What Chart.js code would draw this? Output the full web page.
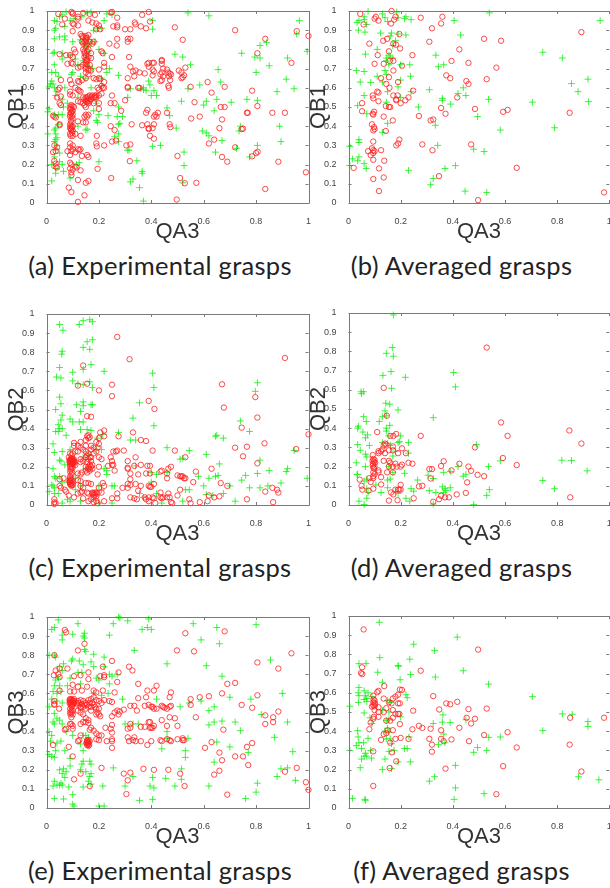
<!DOCTYPE html>
<html><head><meta charset="utf-8">
<script src="https://cdn.jsdelivr.net/npm/chart.js@4"></script>
<style>
html,body{margin:0;padding:0;background:#fff;width:610px;height:888px;overflow:hidden}
canvas{position:absolute;filter:blur(0.45px)}
.cap{position:absolute;font-family:Lato,sans-serif;font-size:25.5px;color:#222;white-space:nowrap;transform:translate(-50%,-50%);letter-spacing:0.3px}
</style></head><body>
<script>
const xTickValues=[0,0.2,0.4,0.6,0.8,1];
const yTickValues=[0,0.1,0.2,0.3,0.4,0.5,0.6,0.7,0.8,0.9,1];
const xLabel='QA3';
const captions=['(a) Experimental grasps','(b) Averaged grasps','(c) Experimental grasps','(d) Averaged grasps','(e) Experimental grasps','(f) Averaged grasps'];
const yLabels=['QB1','QB1','QB2','QB2','QB3','QB3'];

const redA=[[.72,.9],[.835,.855],[.955,.895],[1,.87],[.805,.78],[.935,.73],[.49,.915],[.52,.85],[.785,.585],[.68,.605],[.63,.575],[.615,.63],[.55,.605],[.565,.525],[.665,.5],[.68,.5],[.805,.505],[.765,.47],[.768,.47],[.862,.47],[.91,.47],[.67,.435],[.585,.45],[.552,.44],[.66,.39],[.745,.385],[.75,.387],[.64,.33],[.62,.31],[.72,.29],[.67,.24],[.69,.215],[.785,.243],[.8,.26],[.806,.267],[.885,.215],[.99,.16],[.835,.073],[.572,.105],[.528,.103],[.51,.13],[.497,.018],[.5,.245],
[.39,.995],[.365,.98],[.395,.945],[.337,.94],[.34,.93],[.36,.92],[.38,.91],[.3,.905],[.32,.905],[.27,.965],[.25,.995],[.245,.992],[.255,.92],[.27,.925],[.27,.915],[.27,.855],[.31,.855],[.32,.855],[.31,.84],[.24,.83],[.268,.82],[.25,.76],[.315,.76],[.32,.71],[.33,.685],[.34,.69],[.355,.68],[.335,.66],[.31,.65],[.375,.675],[.385,.725],[.39,.73],[.39,.71],[.405,.73],[.41,.73],[.405,.695],[.41,.685],[.405,.665],[.435,.67],[.44,.745],[.44,.74],[.44,.725],[.445,.7],[.44,.68],[.445,.66],[.44,.64],[.435,.635],[.46,.695],[.465,.68],[.47,.675],[.468,.66],[.475,.67],[.472,.64],[.465,.61],[.467,.6],[.505,.69],[.515,.68],[.53,.705],[.515,.65],[.52,.655],[.525,.665],[.31,.605],[.31,.6],[.35,.6],[.355,.6],[.3,.535],[.25,.56],[.245,.52],[.26,.52],[.285,.48],[.245,.4],[.26,.38],[.325,.41],[.365,.405],[.38,.47],[.385,.485],[.385,.41],[.39,.39],[.395,.35],[.39,.385],[.405,.39],[.41,.335],[.41,.41],[.415,.46],[.41,.45],[.425,.47],[.42,.45],[.46,.47],[.47,.41],[.473,.395],[.25,.32],[.265,.325],[.305,.3],[.32,.305],[.22,.3],[.19,.31],[.192,.295],[.192,.35],[.247,.13],[.318,.218],[.195,.178],[.16,.24],[.155,.25],[.135,.245],
[.045,.985],[.095,.995],[.1,.99],[.1,.985],[.14,.99],[.165,.985],[.185,.98],[.12,.97],[.12,.96],[.07,.96],[.06,.93],[.1,.935],[.105,.93],[.12,.925],[.16,.95],[.175,.94],[.19,.935],[.2,.925],[.19,.905],[.205,.905],[.1,.895],[.13,.88],[.135,.87],[.14,.865],[.15,.87],[.155,.86],[.16,.875],[.135,.84],[.14,.83],[.15,.84],[.165,.84],[.175,.83],[.18,.84],[.105,.8],[.11,.785],[.14,.8],[.145,.79],[.155,.79],[.16,.8],[.17,.78],[.21,.79],[.215,.78],[.05,.775],[.075,.77],[.09,.77],[.1,.76],[.145,.76],[.16,.76],[.17,.755],[.15,.73],[.155,.74],[.165,.72],[.08,.725],[.095,.73],[.1,.725],[.12,.705],[.13,.71],[.14,.72],[.15,.7],[.16,.7],[.17,.69],[.2,.695],[.22,.73],[.22,.71],[.15,.68],[.16,.67],[.18,.65],[.19,.645],[.2,.65],[.205,.645],[.09,.64],[.12,.635],[.125,.63],[.135,.64],[.15,.65],[.055,.64],[.05,.6],[.045,.59],[.095,.62],[.11,.6],[.12,.59],[.125,.585],[.13,.58],[.09,.58],[.09,.565],[.1,.56],[.21,.61],[.22,.63],[.215,.6],[.22,.6],[.195,.6],[.2,.59],[.055,.555],[.04,.55],[.05,.52],[.055,.51],[.12,.53],[.13,.525],[.14,.52],[.15,.55],[.155,.54],[.16,.555],[.165,.53],[.17,.54],[.175,.56],[.185,.56],[.19,.55],[.2,.56],[.21,.57],[.145,.51],[.15,.5],[.16,.52],[.18,.52],[.2,.52],[.2,.49],[.095,.51],[.1,.505],[.105,.5],[.09,.49],[.1,.48],[.095,.47],[.09,.46],[.1,.46],[.09,.45],[.1,.44],[.025,.455],[.03,.45],[.035,.445],[.15,.46],[.155,.45],[.145,.45],[.16,.46],[.14,.42],[.15,.42],[.12,.425],[.05,.41],[.05,.405],[.09,.41],[.1,.4],[.09,.39],[.095,.385],[.1,.375],[.09,.36],[.1,.35],[.11,.36],[.13,.35],[.09,.31],[.1,.3],[.09,.29],[.095,.27],[.1,.28],[.08,.27],[.09,.25],[.11,.265],[.12,.28],[.125,.275],[.13,.28],[.04,.29],[.03,.3],[.035,.27],[.025,.265],[.03,.22],[.035,.205],[.035,.19],[.04,.185],[.09,.21],[.095,.2],[.09,.18],[.1,.175],[.11,.19],[.115,.185],[.13,.17],[.095,.16],[.095,.145],[.12,.12],[.16,.115],[.15,.105],[.085,.08],[.095,.057],[.145,.04],[.12,.006],
[.092,.5],[.095,.49],[.098,.48],[.092,.47],[.097,.45],[.093,.43],[.095,.42],[.092,.4],[.097,.395],[.094,.38],[.098,.365],[.092,.35],[.14,.55],[.145,.54],[.15,.53],[.155,.525],[.16,.535],[.155,.55],[.17,.55],[.165,.56],[.18,.55],[.185,.55],[.19,.56],[.15,.86],[.15,.85],[.145,.84],[.155,.83],[.15,.82],[.15,.81],[.145,.78],[.15,.77],[.155,.75],[.15,.745],[.155,.72],[.15,.71],[.16,.69]];
const greenA=[[.54,.99],[.62,.975],[.965,.95],[.955,.88],[.995,.79],[.84,.835],[.815,.82],[.745,.78],[.795,.76],[.815,.755],[.85,.715],[.92,.755],[.8,.68],[.655,.695],[.55,.72],[.52,.76],[.49,.775],[.915,.645],[.945,.595],[.88,.58],[.665,.63],[.585,.615],[.54,.595],[.515,.53],[.61,.53],[.6,.51],[.65,.54],[.705,.525],[.765,.54],[.805,.535],[.64,.48],[.74,.4],[.735,.375],[.89,.4],[.595,.375],[.61,.365],[.62,.35],[.67,.325],[.895,.32],[.805,.3],[.725,.285],[.645,.265],[.775,.24],[.525,.265],[.525,.195],[.52,.105],[.495,.39],[.47,.455],[.46,.495],[.435,.3],[.405,.295],[.345,.22],[.365,.165],[.365,.155],[.33,.125],[.32,.11],[.355,.08],[.37,.01],[.31,.275],[.315,.275],[.2,.215],
[.405,.95],[.405,.905],[.39,.635],[.395,.615],[.37,.6],[.36,.595],[.38,.585],[.41,.585],[.42,.56],[.4,.56],[.37,.59],[.32,.595],[.31,.55],[.29,.45],[.275,.5],[.27,.45],[.28,.415],[.275,.41],[.275,.36],[.26,.345],[.275,.32],[.235,.455],[.2,.46],[.195,.42],[.19,.43],[.155,.385],[.15,.38],[.12,.4],[.125,.21],[.115,.2],[.25,.98],[.23,.985],[.17,.995],[.155,.99],[.075,.995],[.06,.98],[.05,.97],[.03,.95],[.04,.945],[.035,.91],[.03,.9],[.07,.92],[.09,.95],[.105,.96],[.135,.97],[.22,.95],[.21,.91],[.195,.91],[.18,.9],[.07,.87],[.05,.865],[.03,.855],[.07,.85],[.1,.84],[.13,.85],[.16,.85],[.145,.83],[.155,.815],[.17,.83],[.185,.84],[.2,.8],[.22,.78],[.03,.785],[.025,.78],[.06,.78],[.09,.77],[.06,.75],[.11,.75],[.15,.77],[.16,.78],[.14,.74],[.03,.72],[.02,.68],[.035,.68],[.045,.66],[.1,.68],[.095,.67],[.12,.72],[.16,.71],[.175,.7],[.23,.68],[.24,.7],[.275,.665],[.13,.66],[.15,.65],[.02,.635],[.015,.62],[.025,.62],[.01,.605],[.03,.6],[.04,.58],[.07,.6],[.035,.56],[.06,.54],[.08,.52],[.065,.5],[.01,.49],[.005,.475],[.03,.46],[.045,.46],[.06,.46],[.045,.41],[.035,.39],[.03,.38],[.005,.36],[.035,.36],[.04,.34],[.035,.33],[.03,.32],[.04,.3],[.035,.28],[.05,.26],[.03,.24],[.05,.215],[.06,.2],[.02,.2],[.035,.18],[.065,.165],[.035,.155],[.02,.115],[.09,.13],[.21,.65],[.21,.61],[.17,.6],[.19,.52],[.18,.48],[.12,.55]];
const redB=[[.045,.985],[.1,.96],[.105,.97],[.115,.95],[.165,1],[.18,.97],[.175,.955],[.163,.935],[.058,.93],[.277,.965],[.36,.97],[.355,.935],[.32,.91],[.893,.89],[.52,.855],[.585,.845],[.195,.88],[.148,.855],[.133,.845],[.08,.83],[.31,.84],[.172,.83],[.182,.825],[.198,.805],[.425,.8],[.155,.79],[.112,.77],[.245,.77],[.158,.74],[.172,.74],[.1,.725],[.135,.725],[.205,.715],[.395,.74],[.46,.73],[.567,.705],[.172,.69],[.155,.655],[.125,.65],[.375,.665],[.39,.65],[.53,.645],[.452,.635],[.46,.62],[.19,.63],[.145,.62],[.157,.6],[.248,.585],[.11,.58],[.115,.575],[.093,.56],[.095,.545],[.115,.53],[.172,.56],[.188,.56],[.23,.55],[.183,.54],[.183,.535],[.218,.535],[.2,.52],[.417,.55],[.052,.52],[.143,.505],[.155,.5],[.16,.5],[.355,.495],[.485,.49],[.61,.485],[.593,.475],[.848,.47],[.052,.478],[.098,.475],[.093,.465],[.095,.46],[.135,.45],[.27,.453],[.372,.465],[.325,.435],[.315,.43],[.17,.43],[.09,.41],[.098,.395],[.1,.385],[.095,.378],[.143,.375],[.195,.33],[.19,.31],[.183,.3],[.095,.32],[.283,.305],[.47,.305],[.322,.275],[.09,.285],[.095,.275],[.1,.27],[.075,.27],[.125,.275],[.085,.25],[.095,.26],[.095,.225],[.137,.22],[.117,.18],[.02,.183],[.645,.183],[.135,.133],[.095,.125],[.347,.14],[.117,.062],[.497,.015],[.98,.055]];
const greenB=[[.075,.998],[.13,.985],[.185,.995],[.54,.99],[.965,.95],[.14,.965],[.06,.97],[.06,.955],[.033,.94],[.04,.95],[.15,.945],[.19,.965],[.22,.97],[.24,.955],[.215,.96],[.405,.95],[.07,.93],[.038,.9],[.063,.89],[.123,.885],[.165,.885],[.19,.88],[.22,.875],[.43,.875],[.16,.87],[.18,.845],[.17,.82],[.11,.8],[.065,.775],[.335,.77],[.745,.785],[.82,.755],[.145,.755],[.16,.76],[.155,.77],[.17,.755],[.145,.74],[.2,.72],[.235,.72],[.365,.72],[.345,.71],[.155,.72],[.14,.69],[.03,.69],[.06,.685],[.11,.66],[.145,.67],[.238,.66],[.918,.645],[.045,.63],[.085,.628],[.13,.63],[.2,.64],[.855,.622],[.19,.605],[.44,.6],[.31,.59],[.24,.58],[.15,.58],[.88,.58],[.42,.57],[.06,.56],[.45,.56],[.36,.545],[.36,.535],[.2,.55],[.537,.54],[.145,.525],[.92,.528],[.705,.525],[.392,.515],[.035,.507],[.268,.5],[.07,.465],[.495,.45],[.15,.415],[.333,.405],[.79,.392],[.582,.38],[.13,.368],[.04,.33],[.04,.315],[.005,.295],[.342,.3],[.48,.28],[.52,.268],[.04,.24],[.015,.23],[.035,.22],[.005,.195],[.06,.205],[.068,.18],[.23,.17],[.37,.18],[.41,.195],[.325,.128],[.315,.095],[.447,.062],[.53,.055]];
const redC=[[.27,.88],[.317,.763],[.91,.77],[.14,.73],[.67,.632],[.25,.63],[.12,.625],[.155,.635],[.2,.6],[.25,.57],[.797,.565],[.39,.545],[.412,.503],[.677,.51],[.155,.465],[.17,.462],[.805,.458],[.745,.405],[1,.37],[.832,.323],[.765,.305],[.72,.3],[.953,.293],[.75,.255],[.805,.218],
[.33,.38],[.275,.36],[.22,.39],[.205,.38],[.22,.36],[.36,.34],[.38,.335],[.405,.285],[.49,.285],[.295,.285],[.255,.28],[.265,.28],[.27,.285],[.34,.25],[.245,.25],[.25,.23],[.31,.23],[.25,.21],[.255,.21],[.31,.195],[.31,.19],[.335,.205],[.36,.21],[.385,.205],[.395,.205],[.235,.205],[.26,.18],[.475,.2],[.465,.19],[.44,.18],[.435,.175],[.46,.165],[.46,.14],[.53,.25],[.57,.175],[.5,.155],[.51,.15],[.515,.15],[.52,.15],[.53,.14],[.525,.14],[.56,.12],[.63,.19],[.665,.115],[.69,.1],[.51,.08],[.5,.05],[.545,.03],[.55,.01],[.585,.015],[.615,.02],[.62,.05],[.64,.04],[.66,.045],[.765,.03],[.835,.07],[.865,.015],[.862,.09],[.88,.08],[.885,.065],[.41,.11],[.39,.1],[.395,.095],[.4,.095],[.395,.165],[.38,.165],[.35,.16],[.32,.165],[.32,.135],[.31,.11],[.34,.11],[.32,.105],[.36,.1],[.35,.075],[.29,.09],[.31,.09],[.27,.06],[.27,.035],[.25,.035],[.32,.04],[.335,.035],[.345,.03],[.375,.04],[.38,.03],[.39,.02],[.39,.04],[.405,.04],[.41,.035],[.415,.01],[.435,.065],[.435,.04],[.44,.035],[.445,.04],[.46,.04],[.465,.06],[.47,.04],[.475,.015],[.48,.01],
[.16,.365],[.155,.36],[.165,.355],[.16,.35],[.15,.34],[.13,.33],[.105,.325],[.105,.31],[.12,.31],[.13,.3],[.15,.31],[.17,.31],[.19,.33],[.2,.35],[.2,.32],[.18,.3],[.17,.29],[.15,.28],[.14,.29],[.12,.28],[.11,.28],[.09,.27],[.095,.26],[.1,.27],[.085,.25],[.1,.24],[.095,.235],[.1,.23],[.095,.225],[.09,.23],[.105,.23],[.1,.22],[.09,.215],[.11,.21],[.13,.24],[.13,.225],[.14,.23],[.15,.25],[.155,.26],[.16,.24],[.17,.23],[.18,.27],[.19,.28],[.2,.25],[.21,.24],[.195,.3],[.16,.2],[.165,.21],[.17,.2],[.15,.2],[.15,.18],[.155,.17],[.165,.18],[.175,.19],[.2,.2],[.195,.16],[.135,.17],[.13,.16],[.12,.165],[.095,.19],[.09,.175],[.095,.16],[.09,.15],[.095,.13],[.09,.125],[.1,.12],[.095,.115],[.09,.11],[.1,.105],[.095,.1],[.05,.135],[.05,.1],[.055,.09],[.065,.14],[.07,.08],[.075,.07],[.085,.05],[.03,.03],[.03,.015],[.03,.005],[.035,.01],[.12,.13],[.13,.125],[.13,.1],[.14,.09],[.15,.115],[.16,.115],[.17,.11],[.215,.115],[.22,.1],[.2,.09],[.13,.065],[.12,.06],[.135,.07],[.155,.065],[.16,.06],[.175,.065],[.18,.06],[.185,.055],[.195,.06],[.21,.065],[.19,.045],[.18,.04],[.17,.03],[.16,.02],[.14,.035],[.105,.04],[.19,.02],[.195,.01],[.22,.02],[.18,.015],
[.092,.24],[.098,.24],[.104,.24],[.088,.235],[.094,.23],[.102,.225],[.108,.225],[.092,.22],[.098,.215],[.104,.215],[.088,.225],[.096,.245],[.09,.2],[.095,.2],[.1,.195],[.092,.185],[.098,.17],[.09,.14],[.096,.135],[.088,.12],[.094,.105],[.1,.11],[.088,.13],[.155,.225],[.165,.25],[.17,.25],[.16,.27],[.175,.21],[.16,.19],[.165,.19],[.175,.06],[.185,.065],[.19,.065],[.18,.05]];
const greenC=[[.05,.945],[.063,.915],[.125,.945],[.14,.965],[.165,.97],[.175,.96],[.155,.855],[.175,.865],[.14,.825],[.165,.815],[.06,.805],[.058,.79],[.05,.72],[.17,.735],[.1,.695],[.22,.7],[.14,.71],[.038,.67],[.055,.665],[.1,.65],[.405,.69],[.41,.615],[.12,.635],[.14,.63],[.165,.645],[.175,.615],[.805,.64],[.797,.595],[.05,.565],[.055,.53],[.035,.5],[.115,.525],[.14,.54],[.17,.525],[.175,.525],[.14,.52],[.13,.49],[.355,.535],[.06,.47],[.055,.445],[.09,.45],[.1,.435],[.125,.435],[.14,.435],[.045,.42],[.33,.455],[.41,.415],[.05,.4],[.06,.4],[.035,.385],[.045,.385],[.13,.395],[.155,.395],[.17,.39],[.075,.365],[.275,.38],[.215,.37],[.195,.35],[.34,.34],[.32,.34],[.025,.32],[.74,.44],[.775,.385],[.645,.36],[.65,.365],[.675,.35],[.945,.285],[.545,.285],[.46,.3],[.61,.265],[.66,.215],[.52,.245],[.34,.205],[.03,.275],[.06,.28],[.09,.29],[.19,.29],[.21,.29],[.05,.235],[.055,.23],[.025,.19],[.07,.21],[.03,.15],[.035,.14],[.05,.15],[.06,.12],[.02,.105],[.025,.1],[.03,.09],[.01,.07],[.03,.06],[.045,.06],[.08,.12],[.11,.14],[.15,.19],[.16,.26],[.14,.25],[.22,.19],[.23,.18],[.23,.16],[.25,.1],[.26,.1],[.21,.08],[.2,.1],[.13,.1],[.11,.08],[.09,.02],[.06,.01],[.08,.03],[.13,.02],[.2,.01],[.25,.01],[.355,.06],[.37,.04],[.4,.17],[.42,.16],[.4,.12],[.42,.06],[.44,.01],[.46,.17],[.51,.24],[.53,.08],[.545,.08],[.52,.02],[.58,.15],[.6,.1],[.62,.14],[.645,.15],[.655,.155],[.61,.055],[.635,.05],[.675,.06],[.7,.1],[.72,.02],[.745,.13],[.76,.155],[.775,.09],[.805,.165],[.815,.235],[.815,.09],[.845,.1],[.85,.18],[.895,.115],[.915,.175],[.92,.19],[.995,.14]];
const redD=[[.53,.82],[.135,.61],[.147,.465],[.585,.43],[.847,.388],[.893,.32],[.11,.38],[.183,.37],[.277,.36],[.16,.36],[.172,.36],[.61,.36],[.14,.32],[.135,.31],[.145,.315],[.485,.3],[.17,.305],[.205,.295],[.13,.29],[.115,.28],[.125,.28],[.14,.27],[.115,.27],[.155,.285],[.22,.27],[.19,.27],[.17,.285],[.093,.26],[.592,.245],[.095,.24],[.1,.235],[.092,.23],[.098,.225],[.102,.22],[.094,.215],[.135,.23],[.155,.23],[.365,.228],[.23,.22],[.245,.215],[.205,.21],[.16,.22],[.18,.215],[.645,.208],[.425,.215],[.46,.2],[.093,.205],[.1,.2],[.095,.195],[.098,.19],[.185,.2],[.2,.2],[.155,.2],[.17,.2],[.17,.17],[.148,.17],[.355,.203],[.31,.187],[.32,.187],[.395,.18],[.47,.178],[.095,.17],[.1,.16],[.115,.18],[.115,.17],[.495,.157],[.52,.15],[.095,.15],[.125,.145],[.095,.14],[.08,.14],[.315,.138],[.043,.132],[.085,.12],[.125,.107],[.455,.118],[.2,.105],[.05,.1],[.27,.097],[.283,.1],[.095,.085],[.053,.08],[.077,.075],[.163,.065],[.172,.055],[.19,.08],[.18,.08],[.195,.08],[.2,.08],[.415,.055],[.45,.063],[.85,.04],[.25,.035],[.355,.048],[.37,.04],[.385,.04],[.347,.03],[.155,.023],[.188,.025],[.325,.017]];
const greenD=[[.172,.99],[.168,.82],[.145,.79],[.172,.775],[.163,.695],[.132,.675],[.218,.665],[.403,.69],[.41,.615],[.165,.608],[.048,.59],[.058,.59],[.05,.58],[.143,.53],[.158,.525],[.19,.495],[.14,.49],[.13,.46],[.058,.46],[.068,.435],[.118,.435],[.145,.465],[.325,.455],[.158,.415],[.038,.41],[.145,.4],[.035,.4],[.055,.38],[.145,.385],[.073,.365],[.155,.36],[.065,.35],[.2,.36],[.19,.325],[.195,.33],[.23,.325],[.035,.315],[.08,.31],[.13,.325],[.15,.32],[.16,.31],[.49,.315],[.045,.285],[.18,.28],[.23,.27],[.065,.265],[.07,.25],[.17,.255],[.582,.23],[.818,.233],[.855,.232],[.03,.22],[.065,.2],[.155,.2],[.537,.2],[.42,.2],[.915,.178],[.035,.16],[.033,.158],[.17,.17],[.215,.165],[.305,.155],[.365,.17],[.39,.175],[.44,.15],[.45,.16],[.15,.13],[.16,.135],[.325,.138],[.265,.13],[.745,.128],[.06,.125],[.07,.135],[.105,.105],[.15,.09],[.36,.095],[.37,.085],[.39,.09],[.54,.08],[.79,.085],[.24,.085],[.25,.072],[.31,.075],[.335,.065],[.365,.065],[.373,.075],[.07,.085],[.075,.065],[.125,.065],[.19,.06],[.18,.07],[.53,.05],[.07,.035],[.22,.035],[.04,.02],[.235,.02],[.06,.003],[.325,.005],[.48,.002]];
const redE=[[.07,.932],[.075,.92],[.145,.86],[.12,.825],[.53,.915],[.68,.925],[.498,.825],[.563,.82],[.935,.81],[.03,.8],[.805,.762],[.885,.73],[.25,.77],[.215,.74],[.315,.74],[.328,.72],[.275,.71],[.08,.73],[.05,.73],[.035,.72],[.045,.7],[.028,.695],[.05,.685],[.105,.69],[.13,.695],[.16,.71],[.16,.675],[.205,.69],[.22,.695],[.22,.685],[.27,.66],[.35,.65],[.42,.64],[.475,.605],[.385,.615],[.41,.615],[.69,.65],[.72,.655],[.67,.6],[.05,.615],[.1,.645],[.12,.635],[.135,.615],[.155,.635],[.18,.615],[.19,.605],[.215,.615],[.26,.605],[.09,.61],[.105,.61],[.805,.59],[.62,.585],[.585,.58],[.55,.57],[.47,.58],[.38,.58],[.35,.575],[.09,.57],[.095,.565],[.1,.56],[.09,.555],[.1,.55],[.095,.545],[.105,.57],[.12,.56],[.13,.565],[.14,.56],[.15,.55],[.16,.565],[.17,.57],[.18,.58],[.19,.565],[.2,.56],[.21,.55],[.22,.565],[.24,.56],[.25,.555],[.03,.56],[.03,.545],[.03,.54],[.048,.52],[.095,.53],[.09,.52],[.1,.51],[.09,.5],[.1,.49],[.095,.475],[.12,.54],[.13,.525],[.12,.51],[.13,.5],[.14,.53],[.16,.53],[.17,.53],[.18,.54],[.19,.52],[.2,.52],[.195,.5],[.2,.49],[.19,.49],[.205,.48],[.14,.49],[.15,.47],[.16,.46],[.15,.45],[.16,.445],[.14,.45],[.13,.44],[.17,.42],[.55,.54],[.745,.54],[.785,.525],[.885,.505],[.835,.485],[.865,.475],[.865,.45],[.835,.44],[.57,.475],[.47,.475],[.49,.47],[.5,.43],[.26,.5],[.27,.51],[.28,.505],[.295,.515],[.275,.49],[.25,.48],[.32,.535],[.335,.535],[.345,.51],[.375,.535],[.39,.54],[.4,.53],[.405,.53],[.41,.52],[.42,.52],[.44,.535],[.445,.53],[.45,.525],[.46,.52],[.47,.53],[.475,.535],[.375,.425],[.39,.45],[.395,.45],[.4,.42],[.395,.42],[.405,.42],[.41,.43],[.36,.425],[.44,.46],[.46,.43],[.32,.42],[.32,.44],[.31,.415],[.25,.435],[.245,.415],[.225,.42],[.675,.41],[.07,.41],[.075,.415],[.09,.44],[.095,.44],[.1,.43],[.1,.415],[.13,.38],[.165,.41],[.18,.405],[.19,.39],[.2,.38],[.21,.38],[.25,.395],[.25,.36],[.23,.35],[.25,.35],[.2,.355],[.19,.36],[.12,.35],[.125,.355],[.155,.355],[.155,.345],[.16,.34],[.155,.33],[.16,.325],[.165,.35],[.025,.33],[.085,.32],[.25,.315],[.31,.37],[.315,.35],[.33,.355],[.34,.35],[.335,.37],[.36,.35],[.385,.33],[.4,.35],[.435,.355],[.44,.35],[.46,.36],[.47,.355],[.475,.35],[.5,.36],[.52,.355],[.52,.365],[.525,.355],[.605,.315],[.63,.345],[.66,.29],[.67,.25],[.72,.27],[.75,.27],[.765,.32],[.785,.34],[.77,.225],[.955,.21],[.91,.19],[.99,.135],[1,.095],[.66,.195],[.64,.175],[.69,.07],[.1,.27],[.37,.205],[.41,.2],[.465,.2],[.51,.18],[.527,.115],[.295,.18],[.32,.185],[.31,.145],[.305,.073],[.13,.18],[.105,.15],[.165,.115],[.21,.21],
[.088,.565],[.094,.57],[.1,.565],[.105,.56],[.088,.55],[.094,.555],[.1,.545],[.105,.55],[.092,.54],[.098,.535],[.115,.55],[.125,.55],[.135,.545],[.145,.54],[.155,.54],[.165,.55],[.175,.55],[.185,.53],[.13,.53],[.15,.52],[.17,.51],[.155,.35],[.16,.345],[.152,.34],[.158,.335],[.163,.33],[.16,.355],[.095,.51],[.092,.49],[.096,.5]];
const greenE=[[.275,1],[.28,.995],[.39,.99],[.31,.98],[.255,.965],[.56,.965],[.65,.945],[.8,.96],[.12,.965],[.045,.985],[.02,.935],[.03,.945],[.365,.935],[.385,.945],[.4,.935],[.06,.905],[.1,.91],[.14,.9],[.145,.915],[.145,.89],[.24,.905],[.06,.88],[.59,.88],[.66,.86],[.145,.83],[.15,.82],[.335,.825],[.01,.8],[.03,.8],[.035,.79],[.18,.805],[.22,.79],[.1,.78],[.095,.77],[.125,.77],[.17,.765],[.46,.755],[.855,.775],[.61,.745],[.05,.74],[.065,.755],[.14,.75],[.18,.74],[.22,.74],[.06,.72],[.12,.71],[.135,.71],[.24,.7],[.67,.69],[.035,.67],[.045,.68],[.09,.68],[.19,.68],[.27,.7],[.25,.69],[.03,.64],[.05,.64],[.13,.65],[.2,.67],[.24,.65],[.08,.64],[.025,.61],[.04,.6],[.055,.61],[.18,.6],[.21,.59],[.235,.6],[.9,.6],[.7,.58],[.78,.57],[.42,.57],[.29,.57],[.02,.57],[.04,.56],[.06,.55],[.59,.56],[.545,.55],[.01,.53],[.03,.495],[.51,.53],[.62,.51],[.64,.53],[.82,.49],[.04,.47],[.05,.46],[.025,.45],[.03,.44],[.06,.44],[.3,.44],[.33,.44],[.35,.44],[.62,.435],[.64,.45],[.67,.455],[.72,.45],[.92,.45],[.74,.405],[.46,.4],[.87,.37],[.01,.4],[.02,.38],[.015,.35],[.04,.34],[.055,.35],[.075,.4],[.1,.38],[.14,.38],[.15,.38],[.16,.37],[.14,.3],[.13,.335],[.54,.365],[.46,.365],[.65,.345],[.44,.31],[.53,.3],[.53,.265],[.94,.295],[.7,.32],[.77,.29],[.03,.265],[.02,.27],[.01,.28],[.035,.3],[.07,.3],[.09,.26],[.64,.24],[.14,.245],[.135,.23],[.165,.245],[.17,.23],[.09,.22],[.13,.2],[.15,.19],[.065,.205],[.05,.2],[.06,.18],[.075,.19],[.07,.16],[.17,.18],[.165,.165],[.16,.14],[.255,.21],[.515,.205],[.895,.205],[.92,.21],[.95,.145],[.88,.165],[.805,.13],[.03,.14],[.025,.115],[.05,.12],[.06,.12],[.055,.13],[.04,.12],[.085,.11],[.14,.11],[.17,.125],[.215,.115],[.33,.165],[.3,.115],[.405,.16],[.395,.115],[.41,.105],[.455,.155],[.49,.115],[.515,.15],[.62,.115],[.03,.05],[.065,.047],[.1,.07],[.1,.02],[.105,.01],[.2,.01],[.22,.01],[.355,.04],[.405,.045],[.76,.05],[.8,.083]];
const redF=[[.058,.93],[.497,.825],[.277,.715],[.048,.703],[.052,.733],[.053,.697],[.137,.635],[.115,.61],[.11,.603],[.197,.617],[.205,.615],[.325,.583],[.19,.59],[.18,.58],[.17,.57],[.135,.57],[.095,.585],[.096,.565],[.1,.56],[.095,.55],[.1,.548],[.102,.54],[.095,.535],[.1,.53],[.09,.528],[.115,.525],[.155,.55],[.19,.545],[.197,.545],[.165,.545],[.417,.553],[.375,.545],[.39,.54],[.145,.52],[.135,.5],[.115,.5],[.1,.51],[.348,.513],[.46,.515],[.53,.518],[.248,.507],[.17,.51],[.18,.49],[.19,.49],[.195,.49],[.17,.47],[.115,.475],[.097,.475],[.095,.465],[.453,.47],[.485,.465],[.85,.47],[.98,.47],[.145,.455],[.16,.455],[.47,.44],[.085,.445],[.197,.437],[.27,.428],[.283,.417],[.245,.41],[.315,.413],[.355,.405],[.425,.418],[.08,.41],[.17,.405],[.15,.405],[.135,.385],[.145,.39],[.61,.395],[.52,.38],[.125,.355],[.18,.36],[.2,.365],[.23,.36],[.31,.36],[.355,.36],[.365,.348],[.395,.357],[.462,.348],[.16,.34],[.32,.33],[.645,.315],[.848,.33],[.095,.295],[.167,.29],[.32,.293],[.183,.243],[.593,.218],[.158,.208],[.372,.205],[.893,.19],[.095,.115],[.567,.072]];
const greenF=[[.118,.967],[.417,.89],[.25,.853],[.33,.82],[.12,.783],[.235,.775],[.04,.752],[.067,.753],[.19,.742],[.192,.738],[.112,.707],[.44,.715],[.238,.695],[.333,.682],[.198,.668],[.13,.655],[.537,.645],[.04,.628],[.06,.61],[.037,.6],[.075,.6],[.04,.585],[.065,.585],[.07,.57],[.09,.58],[.22,.59],[.225,.575],[.705,.58],[.06,.565],[.07,.555],[.038,.55],[.15,.56],[.16,.55],[.005,.53],[.06,.495],[.13,.51],[.362,.485],[.155,.5],[.082,.47],[.2,.475],[.82,.49],[.858,.488],[.145,.455],[.155,.46],[.09,.44],[.36,.447],[.39,.445],[.45,.46],[.325,.44],[.918,.45],[.918,.425],[.035,.403],[.15,.415],[.14,.4],[.155,.395],[.745,.403],[.365,.385],[.037,.37],[.075,.363],[.145,.36],[.16,.36],[.232,.37],[.538,.368],[.582,.37],[.04,.34],[.058,.34],[.03,.325],[.165,.335],[.345,.33],[.37,.34],[.005,.3],[.05,.31],[.085,.3],[.175,.3],[.215,.31],[.225,.31],[.495,.315],[.48,.29],[.53,.3],[.155,.295],[.065,.285],[.06,.27],[.07,.27],[.05,.255],[.088,.26],[.14,.255],[.237,.24],[.19,.24],[.045,.21],[.13,.2],[.165,.205],[.33,.163],[.31,.14],[.882,.163],[.96,.147],[.41,.222],[.41,.105],[.52,.075],[.015,.05],[.065,.04],[.063,.045],[.405,.045]];

const panels=[
 {red:redA,green:greenA,left:0,width:316,plot:46.5,right:7.5,top:11,bottom:203,cap:[160,265],ty:3.5},
 {red:redB,green:greenB,left:305,width:305,plot:43.5,right:.7,top:11,bottom:203,cap:[461.5,265],ty:.3},
 {red:redC,green:greenC,left:0,width:316,plot:46.5,right:7.5,top:314,bottom:505,cap:[160,567],ty:3.5},
 {red:redD,green:greenD,left:305,width:305,plot:43.5,right:.7,top:313,bottom:505,cap:[461.5,567],ty:.3},
 {red:redE,green:greenE,left:0,width:316,plot:46.5,right:7.5,top:617,bottom:808,cap:[160,870],ty:3.5},
 {red:redF,green:greenF,left:305,width:305,plot:43.5,right:.7,top:616,bottom:808,cap:[461.5,870],ty:.3}
];
const toPts=a=>a.map(p=>({x:p[0],y:p[1]}));
const noPad=s=>{s.paddingLeft=0;s.paddingRight=0;s.paddingTop=0;s.paddingBottom=0;};
const frame={id:'frame',afterDatasetsDraw(c){
  const a=c.chartArea,g=c.ctx,col='#7a7a7a',L=3;
  g.save();g.strokeStyle=col;g.lineWidth=1;g.beginPath();
  g.rect(Math.round(a.left)+.5,Math.round(a.top)+.5,Math.round(a.right-a.left),Math.round(a.bottom-a.top));
  for(const t of c.scales.x.ticks){const p=Math.round(c.scales.x.getPixelForValue(t.value))+.5;g.moveTo(p,a.bottom);g.lineTo(p,a.bottom-L);g.moveTo(p,a.top);g.lineTo(p,a.top+L);}
  for(const t of c.scales.y.ticks){const p=Math.round(c.scales.y.getPixelForValue(t.value))+.5;g.moveTo(a.left,p);g.lineTo(a.left+L,p);g.moveTo(a.right,p);g.lineTo(a.right-L,p);}
  g.stroke();g.restore();
}};
panels.forEach((p,i)=>{
  const XH=42,top=p.top-8,h=(p.bottom-p.top)+8+XH;
  const cv=document.createElement('canvas');
  cv.style.left=p.left+'px';cv.style.top=top+'px';cv.style.width=p.width+'px';cv.style.height=h+'px';
  cv.width=p.width;cv.height=h;document.body.appendChild(cv);
  new Chart(cv,{type:'scatter',plugins:[frame],data:{datasets:[
    {data:toPts(p.red),pointStyle:'circle',pointRadius:2.7,pointBorderWidth:.8,borderColor:'#ff2020',backgroundColor:'rgba(0,0,0,0)',clip:false},
    {data:toPts(p.green),pointStyle:'cross',pointRadius:3.4,pointBorderWidth:.8,borderColor:'#10f010',backgroundColor:'rgba(0,0,0,0)',clip:false}
  ]},options:{responsive:false,animation:false,devicePixelRatio:1,
    layout:{autoPadding:false,padding:{left:0,top:8,right:p.right,bottom:0}},
    plugins:{legend:{display:false},tooltip:{enabled:false}},
    scales:{
      x:{type:'linear',min:0,max:1,grid:{display:false},border:{display:false},
        afterBuildTicks:s=>{s.ticks=xTickValues.map(v=>({value:v}));},
        afterFit:s=>{s.height=XH;noPad(s);},
        ticks:{font:{family:'Liberation Sans',size:9},color:'#444',padding:5,maxRotation:0,autoSkip:false,callback:v=>String(v)},
        title:{display:true,text:xLabel,font:{family:'Liberation Sans',size:22},color:'#333',padding:{top:0,bottom:0}}},
      y:{type:'linear',min:0,max:1,grid:{display:false},border:{display:false},
        afterBuildTicks:s=>{s.ticks=yTickValues.map(v=>({value:v}));},
        afterFit:s=>{s.width=p.plot;noPad(s);},
        ticks:{font:{family:'Liberation Sans',size:9},color:'#444',padding:4,autoSkip:false,callback:v=>String(v)},
        title:{display:true,text:yLabels[i],font:{family:'Liberation Sans',size:22},color:'#333',padding:{top:p.ty,bottom:0}}}
    }}});
  const d=document.createElement('div');d.className='cap';d.textContent=captions[i];
  d.style.left=p.cap[0]+'px';d.style.top=p.cap[1]+'px';document.body.appendChild(d);
});
</script>
</body></html>
